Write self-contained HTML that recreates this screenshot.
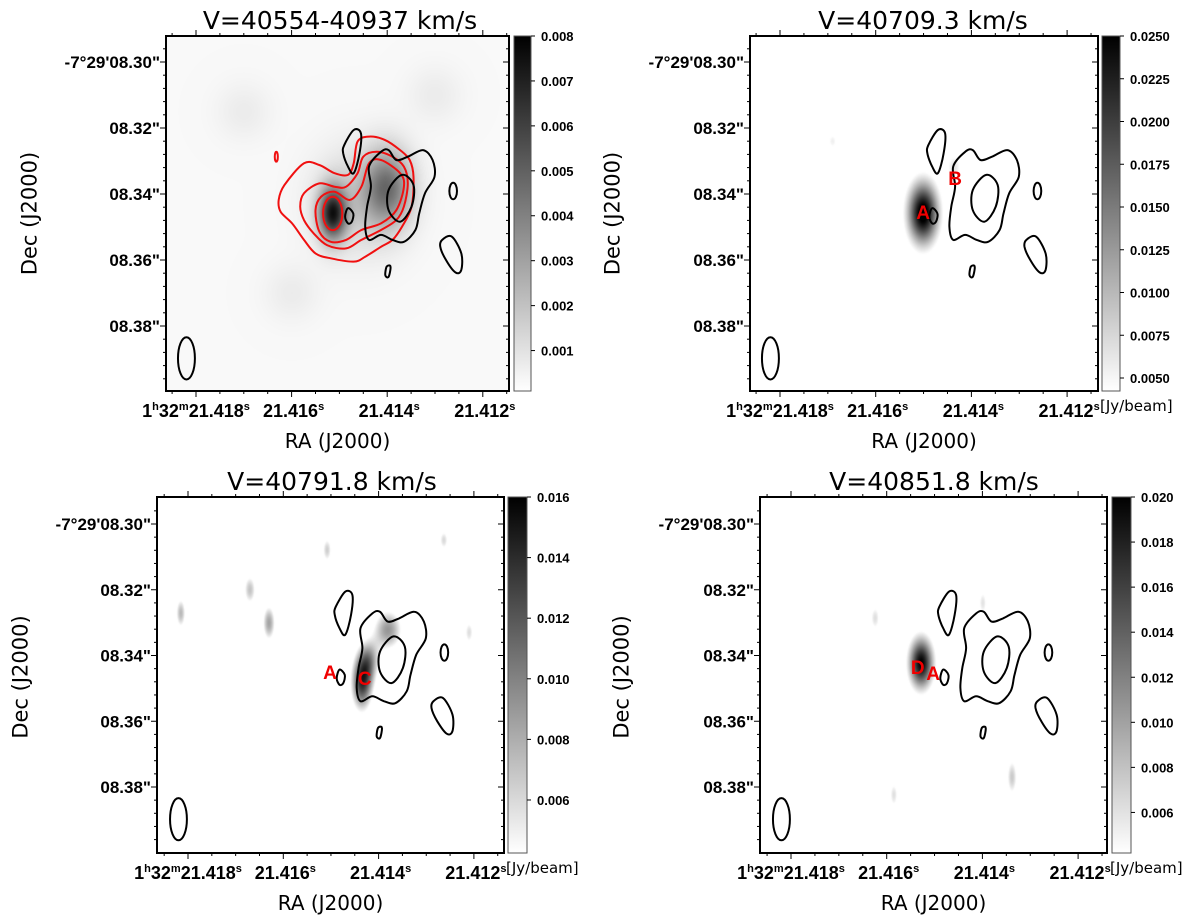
<!DOCTYPE html>
<html><head><meta charset="utf-8">
<style>
html,body{margin:0;padding:0;background:#fff;}
#wrap{position:relative;width:1200px;height:921px;overflow:hidden;}
canvas{position:absolute;}
svg{position:absolute;left:0;top:0;}
text{font-family:"Liberation Sans",sans-serif;}
</style></head>
<body>
<div id="wrap">
<svg id="svg" width="1200" height="921"></svg>
</div>
<script>
// ---------- data ----------
const titles = ["V=40554-40937 km/s","V=40709.3 km/s","V=40791.8 km/s","V=40851.8 km/s"];
const raTicks = [21.418, 21.416, 21.414, 21.412];
const raTickLabels = ["21.418","21.416","21.414","21.412"];
const decTicks = [8.30, 8.32, 8.34, 8.36, 8.38];
const decTickLabels = ["-7°29'08.30\"","08.32\"","08.34\"","08.36\"","08.38\""];
const cbTicksTL = [0.001,0.002,0.003,0.004,0.005,0.006,0.007,0.008];
const cbTicksTR = [0.0050,0.0075,0.0100,0.0125,0.0150,0.0175,0.0200,0.0225,0.0250];
const cbTicksBL = [0.006,0.008,0.010,0.012,0.014,0.016];
const cbTicksBR = [0.006,0.008,0.010,0.012,0.014,0.016,0.018,0.020];
const cbRanges = [[0.0001,0.008],[0.00424,0.025],[0.00425,0.016],[0.0042,0.020]];
const bgLevels = [0.0003, 0, 0, 0];
// blobs: [ra(s), dec(arcsec), sigmaRA(s), sigmaDec(arcsec), amplitude(Jy/beam)]
const blobsTL = [[21.41514,8.3459,0.00020,0.0055,0.0065],[21.41400,8.3380,0.00035,0.0080,0.0038],[21.41460,8.3420,0.00065,0.0110,0.0012],[21.41700,8.3150,0.00040,0.0060,0.0004],[21.41300,8.3100,0.00040,0.0060,0.0004],[21.41600,8.3700,0.00040,0.0060,0.0004]];
const blobsTR = [[21.41501,8.3458,0.00022,0.0065,0.0270],[21.41436,8.3318,0.00012,0.0030,0.0065],[21.41690,8.3240,0.00008,0.0020,0.0055]];
const blobsBL = [[21.41435,8.3484,0.00016,0.0060,0.0130],[21.41420,8.3414,0.00016,0.0045,0.0075],[21.41380,8.3322,0.00022,0.0045,0.0090],[21.41670,8.3200,0.00010,0.0035,0.0070],[21.41630,8.3301,0.00010,0.0040,0.0085],[21.41815,8.3271,0.00008,0.0035,0.0075],[21.41508,8.3079,0.00008,0.0030,0.0065],[21.41263,8.3049,0.00008,0.0025,0.0060],[21.41210,8.3330,0.00008,0.0030,0.0058]];
const blobsBR = [[21.41528,8.3423,0.00018,0.0055,0.0200],[21.41338,8.3770,0.00008,0.0040,0.0075],[21.41585,8.3824,0.00007,0.0030,0.0062],[21.41624,8.3286,0.00008,0.0030,0.0062],[21.41399,8.3240,0.00007,0.0030,0.0060]];
const blackContours = [
 [[21.41490,8.3252],[21.41470,8.3206],[21.41455,8.3216],[21.41458,8.3277],[21.41470,8.3337],[21.41482,8.3317],[21.41492,8.3277]],
 [[21.41438,8.3317],[21.41413,8.3272],[21.41397,8.3267],[21.41381,8.3297],[21.41357,8.3287],[21.41325,8.3267],[21.41305,8.3297],[21.41301,8.3348],[21.41321,8.3398],[21.41333,8.3459],[21.41341,8.3509],[21.41365,8.3545],[21.41389,8.3539],[21.41413,8.3524],[21.41438,8.3539],[21.41446,8.3499],[21.41442,8.3438],[21.41434,8.3378]],
 [[21.41369,8.3342],[21.41345,8.3373],[21.41349,8.3438],[21.41373,8.3484],[21.41397,8.3449],[21.41397,8.3388]],
 [[21.41482,8.3443],[21.41471,8.3459],[21.41474,8.3484],[21.41482,8.3489],[21.41488,8.3469]],
 [[21.41285,8.3539],[21.41265,8.3529],[21.41245,8.3580],[21.41245,8.3630],[21.41257,8.3638],[21.41277,8.3600],[21.41289,8.3560]],
 [[21.41401,8.3620],[21.41393,8.3620],[21.41397,8.3651],[21.41404,8.3646]]
];
// ellipses: [ra, dec, semiRA(s), semiDec(arcsec)]
const blackEllipses = [[21.41262,8.3391,0.00008,0.0025],[21.41820,8.3898,0.000177,0.0064]];
const redContours = [
 [[21.41627,8.3418],[21.41615,8.3373],[21.41574,8.3307],[21.41542,8.3312],[21.41510,8.3337],[21.41482,8.3342],[21.41470,8.3307],[21.41462,8.3241],[21.41438,8.3226],[21.41405,8.3236],[21.41373,8.3267],[21.41353,8.3297],[21.41345,8.3348],[21.41349,8.3438],[21.41369,8.3499],[21.41389,8.3539],[21.41413,8.3560],[21.41446,8.3590],[21.41470,8.3605],[21.41518,8.3595],[21.41550,8.3580],[21.41574,8.3539],[21.41599,8.3489],[21.41623,8.3454]],
 [[21.41582,8.3438],[21.41574,8.3398],[21.41542,8.3368],[21.41510,8.3378],[21.41486,8.3378],[21.41462,8.3337],[21.41450,8.3287],[21.41422,8.3272],[21.41389,8.3287],[21.41365,8.3317],[21.41357,8.3368],[21.41365,8.3438],[21.41381,8.3479],[21.41413,8.3509],[21.41454,8.3539],[21.41486,8.3565],[21.41526,8.3555],[21.41554,8.3519],[21.41574,8.3479]],
 [[21.41550,8.3449],[21.41538,8.3408],[21.41510,8.3393],[21.41478,8.3418],[21.41454,8.3378],[21.41438,8.3307],[21.41413,8.3297],[21.41373,8.3337],[21.41365,8.3378],[21.41381,8.3449],[21.41413,8.3489],[21.41454,8.3509],[21.41486,8.3539],[21.41518,8.3545],[21.41542,8.3514]]
];
const redEllipses = [[21.41514,8.3459,0.000201,0.00505],[21.41632,8.3287,0.000032,0.0015]];
// labels: [text, ra, dec]
const labelsTR = [["A",21.41501,8.3455],["B",21.41434,8.3352]];
const labelsBL = [["A",21.41502,8.3450],["C",21.41429,8.3468]];
const labelsBR = [["D",21.41535,8.3435],["A",21.41503,8.3453]];

// ---------- layout ----------
const panels = [
 {name:"top-left",x0:166,x1:509,y0:36,y1:391,xt0:196,xsp:95.6,yt0:62,ysp:66,cbx:514,cbw:17,titleX:340,titleY:29,decX:29,cb:cbTicksTL,cbFmt:3,unit:false,blobs:blobsTL,red:true,labels:[]},
 {name:"top-right",x0:750,x1:1098,y0:36,y1:391,xt0:780,xsp:95.7,yt0:62,ysp:66,cbx:1102,cbw:18,titleX:923,titleY:29,decX:612,cb:cbTicksTR,cbFmt:4,unit:true,blobs:blobsTR,red:false,labels:labelsTR},
 {name:"bottom-left",x0:157,x1:504,y0:497,y1:853,xt0:188,xsp:95.3,yt0:524,ysp:65.75,cbx:508,cbw:19,titleX:332,titleY:490,decX:20,cb:cbTicksBL,cbFmt:3,unit:true,blobs:blobsBL,red:false,labels:labelsBL},
 {name:"bottom-right",x0:760,x1:1107,y0:497,y1:853,xt0:791,xsp:95.7,yt0:524,ysp:65.75,cbx:1112,cbw:19,titleX:934,titleY:490,decX:621,cb:cbTicksBR,cbFmt:3,unit:true,blobs:blobsBR,red:false,labels:labelsBR}
];
const NS="http://www.w3.org/2000/svg";
const svg=document.getElementById('svg');
const wrap=document.getElementById('wrap');
function mk(tag,attrs,parent){const e=document.createElementNS(NS,tag);for(const k in attrs)e.setAttribute(k,attrs[k]);(parent||svg).appendChild(e);return e;}
function smoothPath(pts){
 const n=pts.length;let d=`M${pts[0][0].toFixed(1)},${pts[0][1].toFixed(1)}`;
 for(let i=0;i<n;i++){const p0=pts[(i-1+n)%n],p1=pts[i],p2=pts[(i+1)%n],p3=pts[(i+2)%n];
  const c1=[p1[0]+(p2[0]-p0[0])/6,p1[1]+(p2[1]-p0[1])/6],c2=[p2[0]-(p3[0]-p1[0])/6,p2[1]-(p3[1]-p1[1])/6];
  d+=`C${c1[0].toFixed(1)},${c1[1].toFixed(1)} ${c2[0].toFixed(1)},${c2[1].toFixed(1)} ${p2[0].toFixed(1)},${p2[1].toFixed(1)}`;}
 return d+'Z';}

panels.forEach((P,pi)=>{
 const X=ra=>P.xt0+(21.418-ra)/0.002*P.xsp;
 const Y=dec=>P.yt0+(dec-8.30)/0.02*P.ysp;
 const RA=x=>21.418-(x-P.xt0)/P.xsp*0.002;
 const DEC=y=>8.30+(y-P.yt0)/P.ysp*0.02;
 const [vmin,vmax]=cbRanges[pi];
 const W=Math.round(P.x1-P.x0),H=Math.round(P.y1-P.y0);
 const cv=document.createElement('canvas');cv.width=W;cv.height=H;
 cv.style.left=P.x0+'px';cv.style.top=P.y0+'px';
 
 
 wrap.insertBefore(cv,svg);
 const ctx=cv.getContext('2d');const img=ctx.createImageData(W,H);
 for(let j=0;j<H;j++){const dec=DEC(P.y0+j+0.5);for(let i=0;i<W;i++){const ra=RA(P.x0+i+0.5);
  let v=bgLevels[pi];for(const b of P.blobs){const a=(ra-b[0])/b[2],c=(dec-b[1])/b[3];v+=b[4]*Math.exp(-0.5*(a*a+c*c));}
  let t=(v-vmin)/(vmax-vmin);t=Math.max(0,Math.min(1,t));const g=Math.round(255*(1-t));
  const k=(j*W+i)*4;img.data[k]=g;img.data[k+1]=g;img.data[k+2]=g;img.data[k+3]=255;}}
 ctx.putImageData(img,0,0);
 const g=mk('g',{});
 
 
 const clipId='clip'+pi;
 const cp=mk('clipPath',{id:clipId},g);mk('rect',{x:P.x0,y:P.y0,width:P.x1-P.x0,height:P.y1-P.y0},cp);
 const cg=mk('g',{'clip-path':`url(#${clipId})`},g);
 
 
 const drawSet=(conts,ells,col,nm)=>{
  conts.forEach(c=>{const p=mk('path',{d:smoothPath(c.map(q=>[X(q[0]),Y(q[1])])),fill:'none',stroke:col,'stroke-width':2},cg);
   });
  ells.forEach(e=>{const el=mk('ellipse',{cx:X(e[0]),cy:Y(e[1]),rx:e[2]/0.002*P.xsp,ry:e[3]/0.02*P.ysp,fill:'none',stroke:col,'stroke-width':2},cg);
   });
 };
 if(P.red) drawSet(redContours,redEllipses,'#f01010','red-contour');
 drawSet(blackContours,blackEllipses,'#000','black-contour');
 P.labels.forEach(l=>{const t=mk('text',{x:X(l[1]),y:Y(l[2])+7,'text-anchor':'middle','font-size':19,'font-weight':'bold',fill:'#f00000'},g);
  t.textContent=l[0];});
 const fr=mk('rect',{x:P.x0,y:P.y0,width:P.x1-P.x0,height:P.y1-P.y0,fill:'none',stroke:'#000','stroke-width':2},g);
 
 const tk=mk('g',{stroke:'#000','stroke-width':1},g);
 
 for(let r=21.4200;r>=21.4110;r-=0.0005){const x=X(r);if(x<P.x0+1||x>P.x1-1)continue;
  const maj=Math.abs(Math.round(r/0.002)*0.002-r)<1e-7;const L=maj?6:3;
  mk('line',{x1:x,x2:x,y1:P.y1,y2:P.y1+L},tk);mk('line',{x1:x,x2:x,y1:P.y0,y2:P.y0-L},tk);}
 for(let d=8.28;d<=8.40;d+=0.004){const y=Y(d);if(y<P.y0+1||y>P.y1-1)continue;
  const maj=Math.abs(Math.round(d/0.02)*0.02-d)<1e-7;const L=maj?6:3;
  mk('line',{x1:P.x0,x2:P.x0-L,y1:y,y2:y},tk);mk('line',{x1:P.x1,x2:P.x1-L,y1:y,y2:y},tk);}
 raTicks.forEach((r,i)=>{const t=mk('text',{x:X(r)+(i===0?0:2),y:P.y1+26,'text-anchor':'middle','font-size':18,'font-weight':'bold'},g);
  
  if(i===0){t.innerHTML='1<tspan font-size="11" dy="-7">h</tspan><tspan dy="7">32</tspan><tspan font-size="11" dy="-7">m</tspan><tspan dy="7">'+raTickLabels[i]+'</tspan><tspan font-size="11" dy="-7">s</tspan>';}
  else t.innerHTML=raTickLabels[i]+'<tspan font-size="11" dy="-7">s</tspan>';});
 decTicks.forEach((d,i)=>{const t=mk('text',{x:P.x0-6,y:Y(d)+6,'text-anchor':'end','font-size':17,'font-weight':'bold'},g);
  t.textContent=decTickLabels[i];});
 const ti=mk('text',{x:P.titleX,y:P.titleY,'text-anchor':'middle','font-size':25,style:'font-family:"DejaVu Sans",sans-serif'},g);
 ti.textContent=titles[pi];
 const cx=(P.x0+P.x1)/2;
 const xl=mk('text',{x:cx,y:P.y1+57,'text-anchor':'middle','font-size':20,style:'font-family:"DejaVu Sans",sans-serif'},g);
 xl.textContent='RA (J2000)';
 const cy=(P.y0+P.y1)/2-(pi<2?0:-2);
 const yl=mk('text',{x:P.decX,y:cy,'text-anchor':'middle','font-size':21,transform:`rotate(-90 ${P.decX} ${cy})`,dy:'0.35em',style:'font-family:"DejaVu Sans",sans-serif'},g);
 yl.textContent='Dec (J2000)';
 const gid='grad'+pi;const defs=mk('defs',{},g);
 const lg=mk('linearGradient',{id:gid,x1:0,y1:1,x2:0,y2:0},defs);
 mk('stop',{offset:0,'stop-color':'#fff'},lg);mk('stop',{offset:1,'stop-color':'#000'},lg);
 const cbr=mk('rect',{x:P.cbx,y:P.y0,width:P.cbw,height:P.y1-P.y0,fill:`url(#${gid})`,stroke:'#555','stroke-width':1},g);
 
 const CY=v=>P.y1-(v-vmin)/(vmax-vmin)*(P.y1-P.y0);
 P.cb.forEach(v=>{const y=CY(v);mk('line',{x1:P.cbx+P.cbw,x2:P.cbx+P.cbw+4,y1:y,y2:y,stroke:'#000'},g);
  const t=mk('text',{x:P.cbx+P.cbw+10,y:y+5,'font-size':13,'font-weight':'bold'},g);
  t.textContent=v.toFixed(P.cbFmt);});
 if(P.unit){const u=mk('text',{x:P.cbx-2,y:P.y1+20,'font-size':15,style:'font-family:"DejaVu Sans",sans-serif'},g);
  u.textContent='[Jy/beam]';}
});
</script>
</body></html>
